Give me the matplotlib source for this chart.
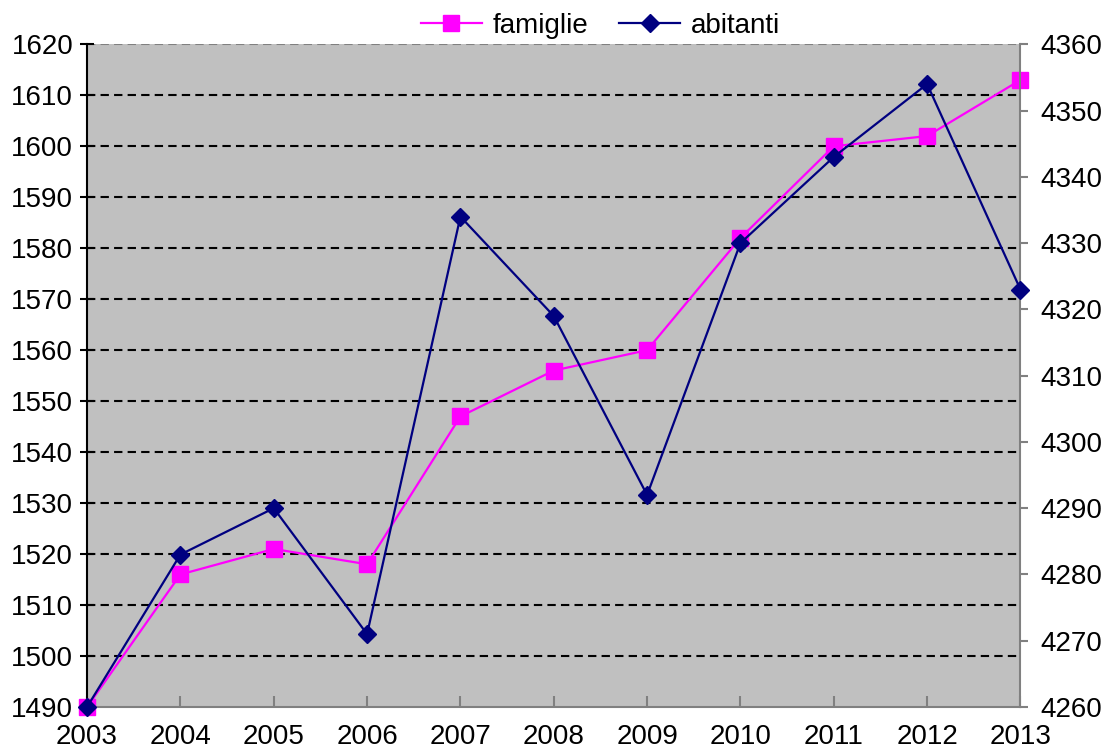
import matplotlib
matplotlib.use("Agg")
import matplotlib.pyplot as plt

plt.rcParams['font.family'] = ['Liberation Sans', 'DejaVu Sans']

anni = [2003, 2004, 2005, 2006, 2007, 2008, 2009, 2010, 2011, 2012, 2013]
famiglie = [1490, 1516, 1521, 1518, 1547, 1556, 1560, 1582, 1600, 1602, 1613]
abitanti = [4260, 4283, 4290, 4271, 4334, 4319, 4292, 4330, 4343, 4354, 4323]

fig = plt.figure(figsize=(11.02, 7.51), dpi=100)
ax = fig.add_axes([0.079, 0.0586, 0.847, 0.8824])
ax.set_facecolor('#c0c0c0')
ax2 = ax.twinx()

l1, = ax.plot(anni, famiglie, color='#ff00ff', marker='s', markersize=12,
              linewidth=1.6, label='famiglie', zorder=3, clip_on=False)
l2, = ax2.plot(anni, abitanti, color='#000080', marker='D', markersize=9,
               linewidth=1.6, label='abitanti', zorder=4, clip_on=False)

ax.set_xlim(2003, 2013)
ax.set_ylim(1490, 1620)
ax2.set_ylim(4260, 4360)
ax.set_xticks(anni)
ax.set_yticks(range(1490, 1621, 10))
ax2.set_yticks(range(4260, 4361, 10))

for y in range(1500, 1611, 10):
    ax.axhline(y, color='black', linestyle=(0, (4, 2.5)), linewidth=1.5, zorder=1)
ax.axhline(1620, color='#808080', linestyle=(0, (4, 2.5)), linewidth=1.5, zorder=1)

ax.spines['left'].set_color('black')
ax.spines['left'].set_linewidth(1.5)
ax.spines['bottom'].set_color('#808080')
ax.spines['bottom'].set_linewidth(1.5)
ax.spines['top'].set_visible(False)
ax.spines['right'].set_visible(False)
ax2.spines['left'].set_visible(False)
ax2.spines['bottom'].set_visible(False)
ax2.spines['top'].set_visible(False)
ax2.spines['right'].set_color('#808080')
ax2.spines['right'].set_linewidth(1.5)

ax.tick_params(axis='y', direction='inout', length=10, width=1.5, color='black',
               labelsize=20, pad=5)
ax.tick_params(axis='x', direction='in', length=8, width=1.5, color='#808080',
               labelsize=20, pad=12)
ax2.tick_params(axis='y', direction='out', length=6, width=1.5, color='#808080',
                labelsize=20, pad=8)

fig.legend([l1, l2], ['famiglie', 'abitanti'], loc='center',
           bbox_to_anchor=(0.545, 0.966), ncol=2, frameon=False, fontsize=20,
           handlelength=2.2, handletextpad=0.4, columnspacing=1.1,
           borderaxespad=0, borderpad=0)

fig.savefig('out.png', dpi=100)
